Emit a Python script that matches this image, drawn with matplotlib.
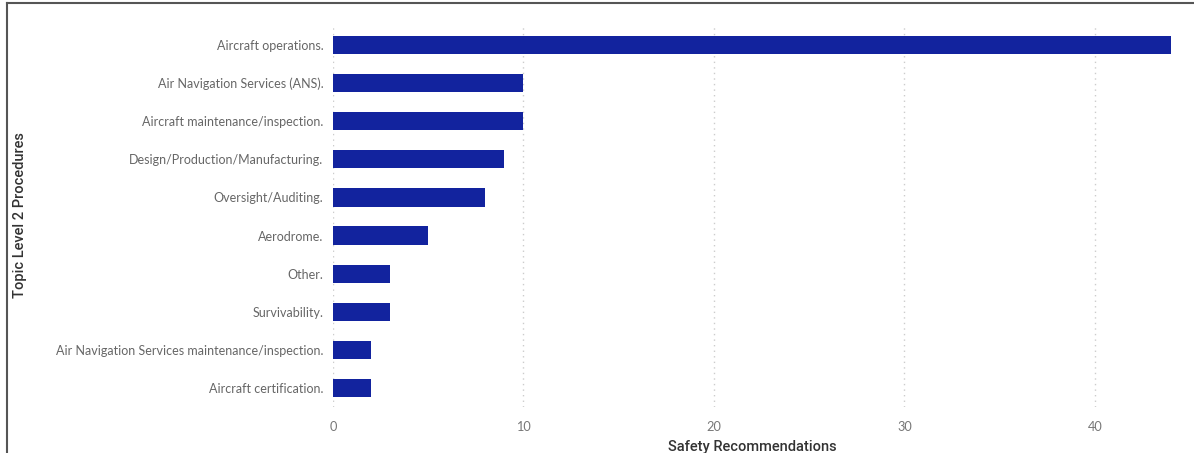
import matplotlib.pyplot as plt
from matplotlib.lines import Line2D

# data (Power BI bar chart)
categories = ["Aircraft operations.",
              "Air Navigation Services (ANS).",
              "Aircraft maintenance/inspection.",
              "Design/Production/Manufacturing.",
              "Oversight/Auditing.",
              "Aerodrome.",
              "Other.",
              "Survivability.",
              "Air Navigation Services maintenance/inspection.",
              "Aircraft certification."]
values = [44, 10, 10, 9, 8, 5, 3, 3, 2, 2]
xticks = [0, 10, 20, 30, 40]

W, H = 1194, 453
fig = plt.figure(figsize=(W/100, H/100), dpi=100)
ax = fig.add_axes([333/W, 1-407/H, (1171-333)/W, (407-26)/H])

ypos = list(range(len(categories)))
ax.barh(ypos, values, height=0.48, color="#12239E", zorder=3)
ax.set_ylim(len(categories)-0.5, -0.5)
ax.set_xlim(0, 44)

ax.set_yticks(ypos)
ax.set_yticklabels(categories, fontsize=9.0, color="#666666", family="Lato")
ax.set_xticks(xticks)
ax.set_xticklabels([str(t) for t in xticks], fontsize=9.2, color="#777777", family="Lato")
ax.tick_params(axis="both", length=0)
ax.tick_params(axis="y", pad=7)
ax.tick_params(axis="x", pad=10)

ax.grid(axis="x", color="#cccccc", linestyle=(0, (1, 3)), linewidth=1, zorder=0)
for s in ax.spines.values():
    s.set_visible(False)

ax.set_xlabel("Safety Recommendations", fontsize=10.5, color="#333333",
              family="Roboto", fontweight="medium", labelpad=5)
fig.text(20/W, 1-215/H, "Topic Level 2 Procedures", rotation=90, fontsize=10.5,
         color="#333333", family="Roboto", fontweight="medium", ha="center", va="center")

# frame lines at top and left of the screenshot
fig.add_artist(Line2D([7/W, 1], [1-3/H, 1-3/H], color="#555555", lw=1.5, transform=fig.transFigure))
fig.add_artist(Line2D([7/W, 7/W], [0, 1-3/H], color="#555555", lw=1.5, transform=fig.transFigure))

fig.savefig("out.png", dpi=100)
